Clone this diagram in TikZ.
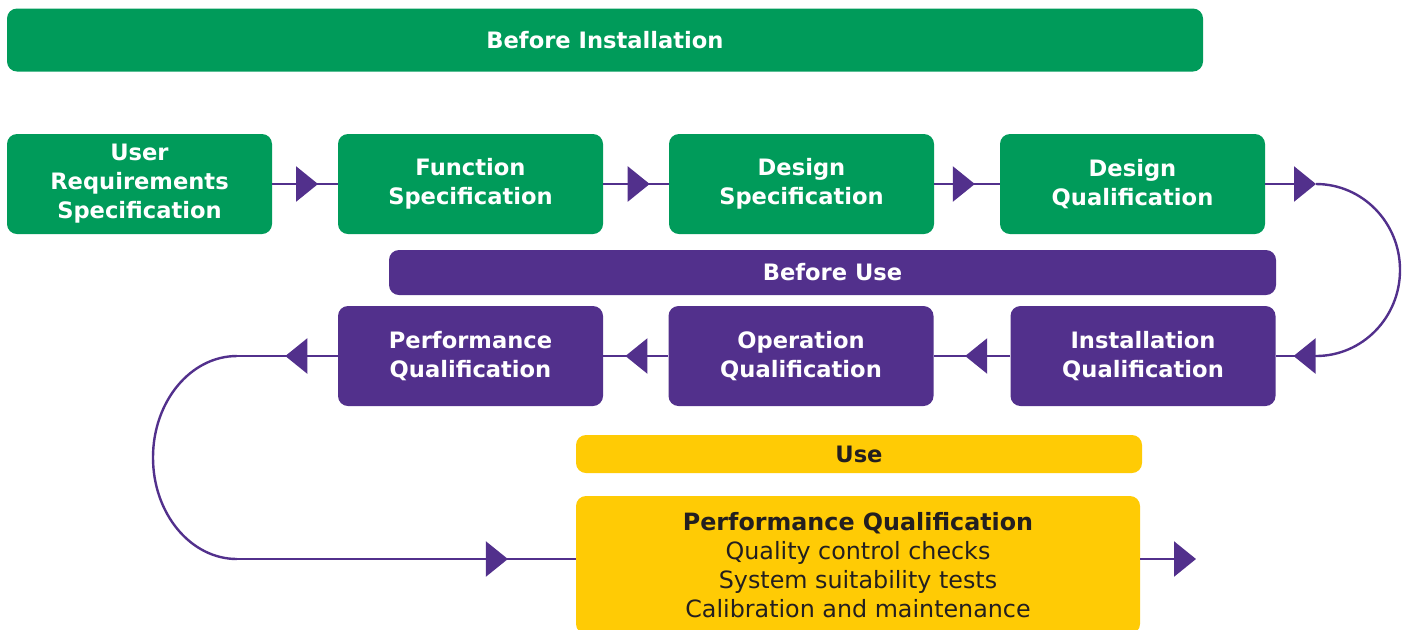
\documentclass[tikz,border=0pt]{standalone}
\usepackage{fontspec}
\setmainfont{DejaVu Sans}
\usetikzlibrary{arrows.meta,decorations.markings}
\definecolor{qgreen}{HTML}{009B5A}
\definecolor{qviolet}{HTML}{52308C}
\definecolor{qyellow}{HTML}{FFCB05}
\definecolor{qdark}{HTML}{231F20}
\tikzset{
	box/.style={rounded corners=5pt, minimum width=132.5pt, minimum height=50pt, inner sep=0pt, align=center, text=white, font=\bfseries\fontsize{11.3}{14.5}\selectfont},
	gbox/.style={box, fill=qgreen},
	vbox/.style={box, fill=qviolet},
	ybox/.style={box, fill=qyellow, text=qdark, minimum width=283pt},
	flow/.style={draw=qviolet, line width=1.2pt},
	midtip/.style={flow, postaction={decorate}, decoration={markings, mark=at position #1 with {\arrow{Triangle[length=11pt,width=17.5pt]}}}},
	endtip/.style={flow, -{Triangle[length=11pt,width=17.5pt]}}
}

\begin{document}
\begin{tikzpicture}[x=0.5pt,y=-0.5pt]
	\useasboundingbox (0,0) rectangle (1407,629);
	% before installation
	\node[gbox, minimum width=598pt, minimum height=31.5pt] (binst) at (605,40) {Before Installation};
	\node[gbox] (urs) at (139.5,184) {User\\Requirements\\Specification};
	\node[gbox] (fs)  at (470.5,184) {Function\\Specification};
	\node[gbox] (ds)  at (801.5,184) {Design\\Specification};
	\node[gbox] (dq)  at (1132.5,184) {Design\\Qualification};
	\draw[midtip=0.7]  (urs) -- (fs);
	\draw[midtip=0.71] (fs) -- (ds);
	\draw[midtip=0.62] (ds) -- (dq);
	%
	% before use
	\node[vbox, minimum width=443.5pt, minimum height=22.5pt] (buse) at (832.5,272.5) {Before Use};
	\node[vbox] (iq) at (1143,356) {Installation\\Qualification};
	\node[vbox] (oq) at (801,356) {Operation\\Qualification};
	\node[vbox] (pq) at (470.5,356) {Performance\\Qualification};
	\coordinate (r1) at (1316,184);
	\coordinate (r2) at (1316,356);
	\draw[endtip] (dq) -- (r1);
	\draw[flow] (r1) arc[start angle=90, end angle=-90, x radius=42pt, y radius=43pt];
	\draw[midtip=0.56] (r2) -- (iq);
	\draw[midtip=0.59] (iq) -- (oq);
	\draw[midtip=0.66] (oq) -- (pq);
	%
	% use
	\coordinate (l1) at (237,356);
	\coordinate (l2) at (237,559);
	\coordinate (r3) at (1196,559);
	\draw[midtip=0.52] (pq) -- (l1);
	\draw[flow] (l1) arc[start angle=90, end angle=270, x radius=42pt, y radius=50.75pt];
	\node[ybox, minimum height=19pt] (use) at (859,454) {Use};
	\node[ybox, minimum width=282pt, minimum height=69pt, font=\fontsize{11.9}{14.5}\selectfont] (pqu) at (858,565)
		{\textbf{Performance Qualification}\\Quality control checks\\System suitability tests\\Calibration and maintenance};
	\draw[midtip=0.8] (l2) -- (l2 -| pqu.west);
	\draw[endtip] (pqu.east |- l2) -- (r3);
\end{tikzpicture}
\end{document}
